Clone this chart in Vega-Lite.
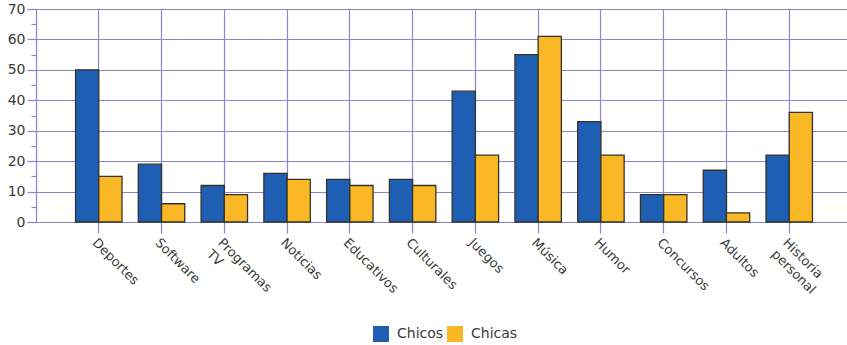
{
  "$schema": "https://vega.github.io/schema/vega-lite/v6.json",
  "width": 816,
  "height": 213,
  "autosize": {"type": "none"},
  "padding": {"left": 36, "top": 9, "right": 0, "bottom": 123},
  "background": "white",
  "data": {
    "values": [
      {"tema": "Deportes", "grupo": "Chicos", "valor": 50},
      {"tema": "Deportes", "grupo": "Chicas", "valor": 15},
      {"tema": "Software", "grupo": "Chicos", "valor": 19},
      {"tema": "Software", "grupo": "Chicas", "valor": 6},
      {"tema": "Programas TV", "grupo": "Chicos", "valor": 12},
      {"tema": "Programas TV", "grupo": "Chicas", "valor": 9},
      {"tema": "Noticias", "grupo": "Chicos", "valor": 16},
      {"tema": "Noticias", "grupo": "Chicas", "valor": 14},
      {"tema": "Educativos", "grupo": "Chicos", "valor": 14},
      {"tema": "Educativos", "grupo": "Chicas", "valor": 12},
      {"tema": "Culturales", "grupo": "Chicos", "valor": 14},
      {"tema": "Culturales", "grupo": "Chicas", "valor": 12},
      {"tema": "Juegos", "grupo": "Chicos", "valor": 43},
      {"tema": "Juegos", "grupo": "Chicas", "valor": 22},
      {"tema": "Música", "grupo": "Chicos", "valor": 55},
      {"tema": "Música", "grupo": "Chicas", "valor": 61},
      {"tema": "Humor", "grupo": "Chicos", "valor": 33},
      {"tema": "Humor", "grupo": "Chicas", "valor": 22},
      {"tema": "Concursos", "grupo": "Chicos", "valor": 9},
      {"tema": "Concursos", "grupo": "Chicas", "valor": 9},
      {"tema": "Adultos", "grupo": "Chicos", "valor": 17},
      {"tema": "Adultos", "grupo": "Chicas", "valor": 3},
      {"tema": "Historia personal", "grupo": "Chicos", "valor": 22},
      {"tema": "Historia personal", "grupo": "Chicas", "valor": 36}
    ]
  },
  "mark": {"type": "bar", "stroke": "#34332a", "strokeWidth": 1.3},
  "encoding": {
    "x": {
      "field": "tema",
      "type": "nominal",
      "sort": null,
      "scale": {"paddingInner": 0.26, "paddingOuter": 0.63},
      "axis": {
        "title": null,
        "labelAngle": 45,
        "labelAlign": "left",
        "labelBaseline": "top",
        "labelFont": "DejaVu Sans",
        "labelFontSize": 13,
        "labelColor": "#3a3a3a",
        "labelLineHeight": 16,
        "labelExpr": "indexof(datum.label, ' ') > 0 ? split(datum.label, ' ') : datum.label",
        "bandPosition": 0.5,
        "grid": true,
        "gridColor": "#8d86c6",
        "gridWidth": 1.2,
        "tickColor": "#8d86c6",
        "tickWidth": 1.2,
        "tickSize": 11,
        "labelPadding": 3,
        "domainColor": "#8d86c6",
        "domainWidth": 1.2
      }
    },
    "xOffset": {"field": "grupo", "type": "nominal", "sort": ["Chicos", "Chicas"]},
    "y": {
      "field": "valor",
      "type": "quantitative",
      "scale": {"domain": [0, 70], "nice": false},
      "axis": {
        "title": null,
        "values": [0, 5, 10, 15, 20, 25, 30, 35, 40, 45, 50, 55, 60, 65, 70],
        "labelExpr": "datum.value % 10 === 0 ? datum.label : ''",
        "labelFont": "DejaVu Sans",
        "labelFontSize": 14,
        "labelColor": "#3a3a3a",
        "labelPadding": 2,
        "tickSize": {"condition": {"test": "datum.value % 10 === 0", "value": 9}, "value": 5},
        "tickColor": "#8d86c6",
        "tickWidth": 1.2,
        "grid": true,
        "gridColor": "#8d86c6",
        "gridWidth": 1.2,
        "gridOpacity": {"condition": {"test": "datum.value % 10 === 0", "value": 1}, "value": 0},
        "domainColor": "#8d86c6",
        "domainWidth": 1.2
      }
    },
    "color": {
      "field": "grupo",
      "type": "nominal",
      "sort": ["Chicos", "Chicas"],
      "scale": {"domain": ["Chicos", "Chicas"], "range": ["#1f5fb3", "#fbb826"]},
      "legend": {
        "title": null,
        "orient": "none",
        "direction": "horizontal",
        "legendX": 337,
        "legendY": 317,
        "symbolType": "square",
        "symbolSize": 256,
        "symbolStrokeWidth": 0,
        "labelFont": "DejaVu Sans",
        "labelFontSize": 14,
        "labelColor": "#3a3a3a",
        "labelOffset": 8,
        "columnPadding": 3
      }
    }
  },
  "config": {"view": {"stroke": null}}
}
